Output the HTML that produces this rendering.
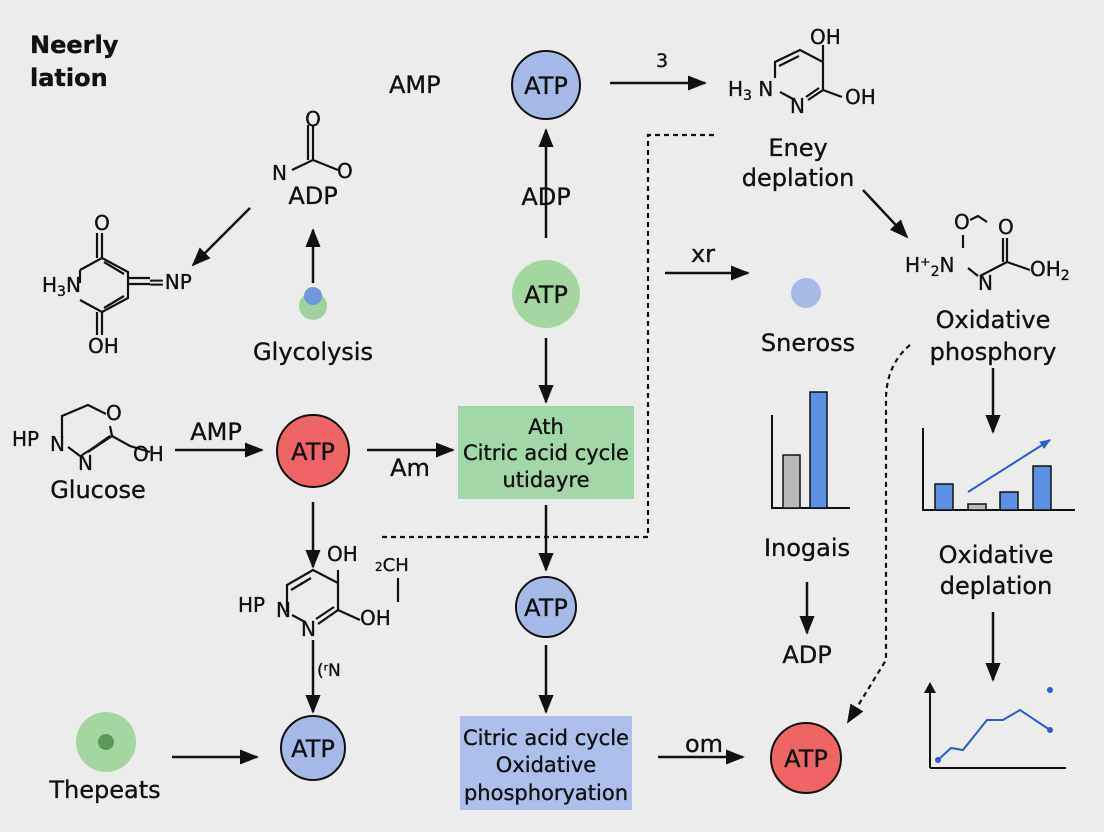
<!DOCTYPE html>
<html><head><meta charset="utf-8"><style>
html,body{margin:0;padding:0;background:#ececec;}
svg{display:block;}
text{font-family:"DejaVu Sans","Liberation Sans",sans-serif;fill:#111;stroke:#111;stroke-width:0.35;}
</style></head><body>
<svg width="1104" height="832" viewBox="0 0 1104 832" xmlns="http://www.w3.org/2000/svg">
<defs>
<marker id="ah" viewBox="0 0 10 10" refX="9" refY="5" markerWidth="19" markerHeight="19" markerUnits="userSpaceOnUse" orient="auto"><path d="M0,1 L10,5 L0,9 z" fill="#111"/></marker>
<marker id="ab" viewBox="0 0 10 10" refX="9" refY="5" markerWidth="11" markerHeight="11" markerUnits="userSpaceOnUse" orient="auto"><path d="M0,1 L10,5 L0,9 z" fill="#2a5bd0"/></marker>
</defs>
<rect width="1104" height="832" fill="#ececec"/>
<g stroke="#111" stroke-width="2.5" fill="none">
<line x1="610" y1="83" x2="705" y2="83" marker-end="url(#ah)"/>
<line x1="546" y1="238" x2="546" y2="130" marker-end="url(#ah)"/>
<line x1="546" y1="338" x2="546" y2="402" marker-end="url(#ah)"/>
<line x1="546" y1="505" x2="546" y2="570" marker-end="url(#ah)"/>
<line x1="546" y1="645" x2="546" y2="712" marker-end="url(#ah)"/>
<line x1="658" y1="757" x2="743" y2="757" marker-end="url(#ah)"/>
<line x1="250" y1="208" x2="193" y2="265" marker-end="url(#ah)"/>
<line x1="313" y1="283" x2="313" y2="230" marker-end="url(#ah)"/>
<line x1="175" y1="450" x2="262" y2="450" marker-end="url(#ah)"/>
<line x1="367" y1="450" x2="453" y2="450" marker-end="url(#ah)"/>
<line x1="313" y1="502" x2="313" y2="567" marker-end="url(#ah)"/>
<line x1="313" y1="640" x2="313" y2="712" marker-end="url(#ah)"/>
<line x1="172" y1="757" x2="257" y2="757" marker-end="url(#ah)"/>
<line x1="665" y1="273" x2="748" y2="273" marker-end="url(#ah)"/>
<line x1="863" y1="190" x2="907" y2="237" marker-end="url(#ah)"/>
<line x1="993" y1="368" x2="993" y2="432" marker-end="url(#ah)"/>
<line x1="993" y1="612" x2="993" y2="680" marker-end="url(#ah)"/>
<line x1="807" y1="582" x2="807" y2="633" marker-end="url(#ah)"/>
</g>
<g stroke="#111" stroke-width="2.2" fill="none">
<path d="M382,537 H648 V135 H718" stroke-dasharray="5,4"/>
<path d="M910,345 Q886,365 886,400 V660 L848,722" stroke-dasharray="5,4" marker-end="url(#ah)"/>
<path d="M313,125 V160 M308,125 V160 M313,160 L292,170 M313,160 L338,170"/>
<path d="M102,233 V258 M97,233 V258 M102,258 L80,270 M80,270 V283 M102,258 L128,272 L128,298 L102,312 L80,300 M104,262 L124,274 M124,296 L104,308 M128,278 H150 M128,284 H150 M102,312 V335 M97,312 V335"/>
<path d="M62,438 V416 L88,405 L106,414 M110,426 L112,436 L88,452 M112,436 L130,446 L150,452 M110,436 L90,450 M90,450 L82,455 M68,447 L80,456"/>
<path d="M287,612 L287,585 L313,570 L338,583 L338,610 L318,624 M291,590 L311,578 M334,607 L316,619 M305,622 L292,615 M338,583 V570 M338,610 L360,620 M398,578 V602"/>
<path d="M775,78 V62 L800,50 L823,62 L823,90 L808,100 M779,66 L799,56 M819,88 L806,97 M795,100 L780,92 M823,62 V45 M823,90 L842,97"/>
<path d="M963,235 V248 M970,220 L978,216 L987,222 M1007,238 V262 M1003,238 V262 M1007,262 L980,276 M1007,262 L1030,270 M968,268 L978,276"/>
</g>
<circle cx="546" cy="85" r="34" fill="#a7b9e6" stroke="#111" stroke-width="2"/>
<circle cx="546" cy="294" r="34" fill="#a3d6a1"/>
<circle cx="546" cy="607" r="30" fill="#a7b9e6" stroke="#111" stroke-width="2"/>
<circle cx="313" cy="451" r="36" fill="#ef6464" stroke="#111" stroke-width="2"/>
<circle cx="313" cy="748" r="32" fill="#a7b9e6" stroke="#111" stroke-width="2"/>
<circle cx="806" cy="758" r="35" fill="#ef6464" stroke="#111" stroke-width="2"/>
<circle cx="313" cy="306" r="14" fill="#9fd29c"/>
<circle cx="313" cy="296" r="9" fill="#6f98dd"/>
<circle cx="106" cy="742" r="30" fill="#a3d6a1"/>
<circle cx="106" cy="742" r="8" fill="#5c9a5c"/>
<circle cx="806" cy="293" r="15" fill="#a7b9e6"/>
<rect x="458" y="406" width="176" height="93" fill="#a3d6a9"/>
<rect x="460" y="716" width="172" height="94" fill="#aebfea"/>
<g stroke="#111" stroke-width="2" fill="none">
<path d="M772,415 V508 H850"/>
<path d="M923,428 V510 H1075"/>
<path d="M930,768 H1066 M930,768 V684" />
</g>
<rect x="783" y="455" width="17" height="53" fill="#b9b9b9" stroke="#111" stroke-width="1.5"/>
<rect x="810" y="392" width="17" height="116" fill="#5f8fe0" stroke="#111" stroke-width="1.5"/>
<rect x="935" y="484" width="18" height="26" fill="#5f8fe0" stroke="#111" stroke-width="1.5"/>
<rect x="968" y="504" width="18" height="6" fill="#b9b9b9" stroke="#111" stroke-width="1.5"/>
<rect x="1000" y="492" width="18" height="18" fill="#5f8fe0" stroke="#111" stroke-width="1.5"/>
<rect x="1033" y="466" width="18" height="44" fill="#5f8fe0" stroke="#111" stroke-width="1.5"/>
<line x1="968" y1="492" x2="1050" y2="440" stroke="#2a5bd0" stroke-width="2" marker-end="url(#ab)"/>
<path d="M930,682 l-6,11 h12 z" fill="#111"/>
<polyline points="938,760 951,748 963,750 987,720 1003,720 1020,710 1050,730" fill="none" stroke="#2a5bd0" stroke-width="2"/>
<circle cx="938" cy="760" r="3" fill="#2a5bd0"/><circle cx="1050" cy="730" r="3" fill="#2a5bd0"/><circle cx="1050" cy="690" r="3" fill="#2a5bd0"/>
<g font-size="24">
<text x="30" y="53" font-weight="bold">Neerly</text>
<text x="30" y="86" font-weight="bold">lation</text>
<text x="389" y="93">AMP</text>
<text x="546" y="94" text-anchor="middle">ATP</text>
<text x="656" y="67" font-size="19">3</text>
<text x="546" y="205" text-anchor="middle">ADP</text>
<text x="546" y="303" text-anchor="middle">ATP</text>
<text x="546" y="616" text-anchor="middle">ATP</text>
<text x="313" y="460" text-anchor="middle">ATP</text>
<text x="313" y="757" text-anchor="middle">ATP</text>
<text x="806" y="767" text-anchor="middle">ATP</text>
<text x="313" y="204" text-anchor="middle">ADP</text>
<text x="313" y="360" text-anchor="middle">Glycolysis</text>
<text x="98" y="498" text-anchor="middle">Glucose</text>
<text x="216" y="440" text-anchor="middle">AMP</text>
<text x="410" y="476" text-anchor="middle">Am</text>
<text x="105" y="798" text-anchor="middle">Thepeats</text>
<text x="685" y="752">om</text>
<text x="703" y="262" text-anchor="middle">xr</text>
<text x="808" y="351" text-anchor="middle">Sneross</text>
<text x="807" y="556" text-anchor="middle">Inogais</text>
<text x="807" y="663" text-anchor="middle">ADP</text>
<text x="798" y="156" text-anchor="middle">Eney</text>
<text x="798" y="186" text-anchor="middle">deplation</text>
<text x="993" y="328" text-anchor="middle">Oxidative</text>
<text x="993" y="360" text-anchor="middle">phosphory</text>
<text x="996" y="563" text-anchor="middle">Oxidative</text>
<text x="996" y="594" text-anchor="middle">deplation</text>
</g>
<g font-size="21" text-anchor="middle">
<text x="546" y="434">Ath</text>
<text x="546" y="460">Citric acid cycle</text>
<text x="546" y="487">utidayre</text>
<text x="546" y="745">Citric acid cycle</text>
<text x="546" y="772">Oxidative</text>
<text x="546" y="800">phosphoryation</text>
</g>
<g font-size="20">
<text x="313" y="126" text-anchor="middle">O</text>
<text x="272" y="180">N</text>
<text x="337" y="178">O</text>
<text x="102" y="230" text-anchor="middle">O</text>
<text x="42" y="292">H<tspan font-size="14" dy="4">3</tspan><tspan dy="-4">N</tspan></text>
<text x="148" y="289">=NP</text>
<text x="88" y="353">OH</text>
<text x="106" y="420">O</text>
<text x="12" y="446">HP</text>
<text x="50" y="451">N</text>
<text x="78" y="470">N</text>
<text x="133" y="461">OH</text>
<text x="327" y="561">OH</text>
<text x="375" y="571" font-size="18"><tspan font-size="12">2</tspan>CH</text>
<text x="238" y="612">HP</text>
<text x="276" y="617">N</text>
<text x="301" y="636">N</text>
<text x="360" y="625">OH</text>
<text x="317" y="676" font-size="17">(ʳN</text>
<text x="728" y="96">H<tspan font-size="14" dy="4">3</tspan><tspan dy="-4"> N</tspan></text>
<text x="790" y="113">N</text>
<text x="810" y="44">OH</text>
<text x="845" y="104">OH</text>
<text x="905" y="272">H⁺<tspan font-size="14" dy="4">2</tspan><tspan dy="-4">N</tspan></text>
<text x="954" y="229">O</text>
<text x="998" y="234">O</text>
<text x="978" y="290">N</text>
<text x="1030" y="276">OH<tspan font-size="14" dy="4">2</tspan></text>
</g>
</svg>
</body></html>
